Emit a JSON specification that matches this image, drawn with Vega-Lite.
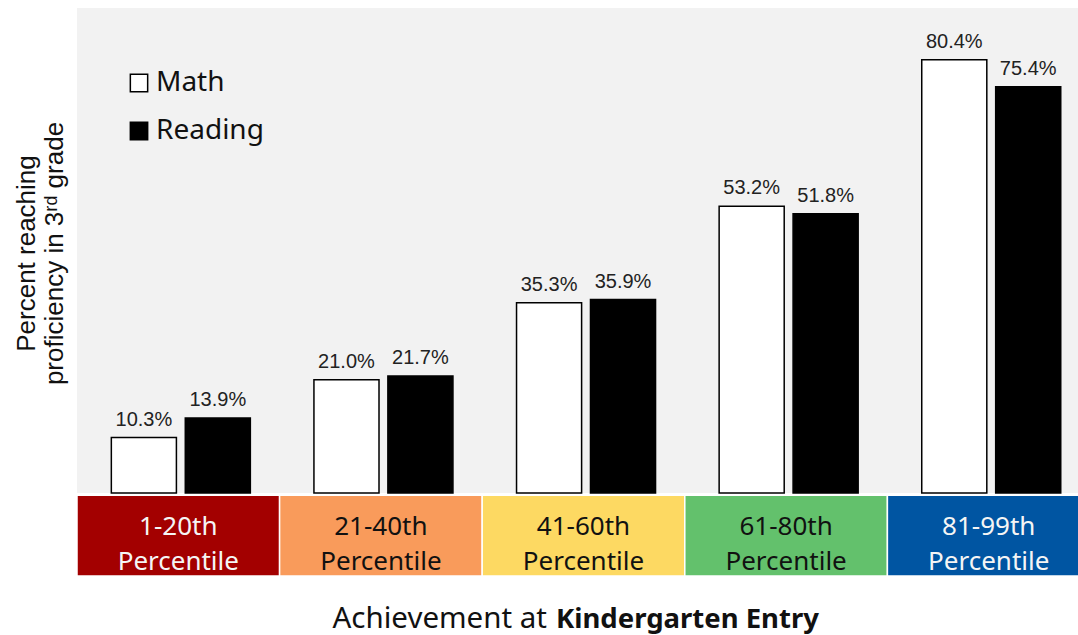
{
  "$schema": "https://vega.github.io/schema/vega-lite/v6.json",
  "width": 1013,
  "height": 568,
  "autosize": "none",
  "padding": {"left": 77, "top": 8, "right": 0, "bottom": 59},
  "background": "white",
  "config": {"view": {"stroke": null}, "font": "Noto Sans"},
  "title": {
    "text": "Kindergarten Entry",
    "orient": "bottom",
    "anchor": "start",
    "frame": "group",
    "dx": 479,
    "dy": -27,
    "offset": 0,
    "font": "Noto Sans",
    "fontSize": 27.5,
    "fontWeight": "bold",
    "color": "#111111"
  },
  "datasets": {
    "scores": [
      {"group": "1-20th", "subject": "Math", "value": 0.103},
      {"group": "1-20th", "subject": "Reading", "value": 0.139},
      {"group": "21-40th", "subject": "Math", "value": 0.21},
      {"group": "21-40th", "subject": "Reading", "value": 0.217},
      {"group": "41-60th", "subject": "Math", "value": 0.353},
      {"group": "41-60th", "subject": "Reading", "value": 0.359},
      {"group": "61-80th", "subject": "Math", "value": 0.532},
      {"group": "61-80th", "subject": "Reading", "value": 0.518},
      {"group": "81-99th", "subject": "Math", "value": 0.804},
      {"group": "81-99th", "subject": "Reading", "value": 0.754}
    ],
    "bands": [
      {"group": "1-20th", "label": "1-20th\nPercentile"},
      {"group": "21-40th", "label": "21-40th\nPercentile"},
      {"group": "41-60th", "label": "41-60th\nPercentile"},
      {"group": "61-80th", "label": "61-80th\nPercentile"},
      {"group": "81-99th", "label": "81-99th\nPercentile"}
    ]
  },
  "layer": [
    {
      "data": {"values": [{}]},
      "mark": {"type": "rect", "fill": "#f2f2f2"},
      "encoding": {
        "y": {"datum": 0, "type": "quantitative"},
        "y2": {"datum": 0.9}
      }
    },
    {
      "data": {"name": "bands"},
      "mark": {"type": "rect", "stroke": "white", "strokeWidth": 1.5},
      "encoding": {
        "x": {"field": "group", "type": "nominal"},
        "y": {"datum": -0.004, "type": "quantitative"},
        "y2": {"datum": -0.154},
        "fill": {
          "field": "group",
          "type": "nominal",
          "scale": {
            "domain": ["1-20th", "21-40th", "41-60th", "61-80th", "81-99th"],
            "range": ["#a30000", "#f99b5b", "#fdd962", "#63c16c", "#0055a2"]
          },
          "legend": null
        }
      }
    },
    {
      "data": {"name": "bands"},
      "mark": {
        "type": "text",
        "lineBreak": "\n",
        "lineHeight": 35,
        "font": "Noto Sans",
        "fontSize": 26,
        "baseline": "middle",
        "align": "center"
      },
      "encoding": {
        "x": {"field": "group", "type": "nominal"},
        "y": {"datum": -0.0631, "type": "quantitative"},
        "text": {"field": "label"},
        "color": {
          "condition": {"test": "datum.group === '1-20th' || datum.group === '81-99th'", "value": "#f5f5f5"},
          "value": "#111111"
        }
      }
    },
    {
      "data": {"name": "scores"},
      "mark": {"type": "bar", "stroke": "black", "strokeWidth": 1.5},
      "encoding": {
        "x": {
          "field": "group",
          "type": "nominal",
          "scale": {
            "domain": ["1-20th", "21-40th", "41-60th", "61-80th", "81-99th"],
            "paddingInner": 0,
            "paddingOuter": 0
          },
          "axis": {
            "title": "Achievement at",
            "labels": false,
            "ticks": false,
            "domain": false,
            "grid": false,
            "titleFont": "Noto Sans",
            "titleFontSize": 29.5,
            "titleFontWeight": "normal",
            "titleColor": "#111111",
            "titleAlign": "left",
            "titleBaseline": "middle",
            "titleX": 255,
            "titleY": 42
          }
        },
        "xOffset": {
          "field": "subject",
          "type": "nominal",
          "scale": {"domain": ["Math", "Reading"], "paddingInner": 0.12, "paddingOuter": 0.43, "align": 0.54}
        },
        "y": {
          "field": "value",
          "type": "quantitative",
          "scale": {"domain": [-0.154, 0.9], "nice": false, "zero": false},
          "axis": {
            "title": ["Percent reaching", "proficiency in 3ʳᵈ grade"],
            "labels": false,
            "ticks": false,
            "domain": false,
            "grid": false,
            "titleFont": "Liberation Sans",
            "titleFontSize": 26,
            "titleFontWeight": "normal",
            "titleColor": "#111111",
            "titlePadding": 10,
            "titleLineHeight": 28,
            "titleY": 245
          }
        },
        "y2": {"datum": 0},
        "color": {
          "field": "subject",
          "type": "nominal",
          "scale": {"domain": ["Math", "Reading"], "range": ["white", "black"]},
          "legend": {
            "title": null,
            "orient": "none",
            "legendX": 48,
            "legendY": 61,
            "padding": 0,
            "symbolType": "square",
            "symbolSize": 300,
            "symbolStrokeColor": "black",
            "symbolStrokeWidth": 1.5,
            "labelFont": "Noto Sans",
            "labelFontSize": 28,
            "labelColor": "#111111",
            "labelOffset": 3,
            "rowPadding": 20
          }
        }
      }
    },
    {
      "data": {"name": "scores"},
      "mark": {
        "type": "text",
        "font": "Liberation Sans",
        "fontSize": 20,
        "baseline": "alphabetic",
        "dy": -12,
        "color": "#222222"
      },
      "encoding": {
        "x": {"field": "group", "type": "nominal"},
        "xOffset": {"field": "subject", "type": "nominal"},
        "y": {"field": "value", "type": "quantitative"},
        "text": {"field": "value", "type": "quantitative", "format": ".1%"}
      }
    }
  ]
}
